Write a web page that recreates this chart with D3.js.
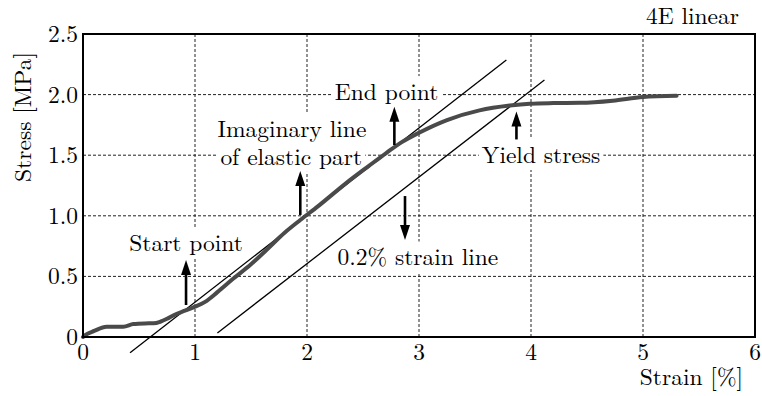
<!DOCTYPE html>
<html>
<head>
<meta charset="utf-8">
<script src="https://cdn.jsdelivr.net/npm/d3@7"></script>
<style>
  html, body { margin: 0; padding: 0; background: #fff; }
</style>
</head>
<body>
<svg id="chart" width="762" height="396"></svg>
<script>
// ---- data ----
const strain = [0, 0.02, 0.1, 0.21, 0.3, 0.36, 0.45, 0.55, 0.63, 0.69, 0.75, 0.81, 0.91, 1.0, 1.09, 1.2, 1.34, 1.5, 1.64, 1.8, 1.94, 2.1, 2.35, 2.55, 2.71, 2.85, 3.01, 3.25, 3.54, 3.81, 3.99, 4.2, 4.44, 4.73, 5.0, 5.3];
const stress = [0, 0.015, 0.05, 0.085, 0.085, 0.085, 0.107, 0.112, 0.113, 0.126, 0.15, 0.18, 0.217, 0.25, 0.29, 0.37, 0.48, 0.6, 0.72, 0.86, 0.965, 1.08, 1.27, 1.41, 1.52, 1.61, 1.69, 1.79, 1.87, 1.91, 1.925, 1.93, 1.932, 1.95, 1.98, 1.99];
const elasticLine = [[0.42, -0.13], [3.78, 2.285]];
const offsetLine = [[1.2, 0.033], [4.12, 2.12]];
const xTicks = [0, 1, 2, 3, 4, 5, 6];
const yTicks = [0, 0.5, 1.0, 1.5, 2.0, 2.5];
const yTickLabels = ["0", "0.5", "1.0", "1.5", "2.0", "2.5"];
// arrows: x, tail stress, tip stress
const arrowX = [0.92, 1.94, 2.78, 3.87, 2.875];
const arrowFrom = [0.264, 1.007, 1.584, 1.63, 1.163];
const arrowTo = [0.635, 1.37, 1.90, 1.86, 0.80];
// labels
const labelText = ["Start point", "Imaginary line", "of elastic part", "End point", "Yield stress", "0.2% strain line"];
const labelX = [0.92, 1.865, 1.86, 2.71, 4.09, 2.99];
const labelY = [0.71, 1.65, 1.42, 1.955, 1.436, 0.59];

// ---- layout ----
const FONT = '"Latin Modern Roman", "Liberation Serif", monospace';
const svg = d3.select("#chart");
const L = 83, R = 755, T = 34, B = 337;
const x = d3.scaleLinear().domain([0, 6]).range([L, R]);
const y = d3.scaleLinear().domain([0, 2.5]).range([B, T]);
const FS = 23.5;

function txt(sel) { return sel.append("text").attr("font-family", FONT).attr("font-size", FS).attr("fill", "#000"); }

// grid
const grid = svg.append("g");
grid.selectAll(".vg").data(xTicks.filter(d => d > 0 && d < 6)).join("line")
  .attr("x1", d => x(d)).attr("x2", d => x(d)).attr("y1", T).attr("y2", B)
  .attr("stroke", "#222").attr("stroke-width", 1).attr("stroke-dasharray", "3,2");
grid.selectAll(".hg").data(yTicks.filter(d => d > 0 && d < 2.5)).join("line")
  .attr("y1", d => y(d)).attr("y2", d => y(d)).attr("x1", L).attr("x2", R)
  .attr("stroke", "#222").attr("stroke-width", 1).attr("stroke-dasharray", "3,2");

// label backgrounds layer
const bgLayer = svg.append("g");

// reference lines
const line = d3.line().x(d => x(d[0])).y(d => y(d[1]));
[elasticLine, offsetLine].forEach(l => {
  svg.append("path").attr("d", line(l)).attr("fill", "none")
    .attr("stroke", "#000").attr("stroke-width", 1.3);
});

// curve
const pts = strain.map((s, i) => [s, stress[i]]);
svg.append("path")
  .attr("d", d3.line().x(d => x(d[0])).y(d => y(d[1])).curve(d3.curveMonotoneX)(pts))
  .attr("fill", "none").attr("stroke", "#4a4a4a").attr("stroke-width", 4)
  .attr("stroke-linecap", "round");

// arrows
arrowX.forEach((ax, i) => {
  const x0 = x(ax), y0 = y(arrowFrom[i]), y1 = y(arrowTo[i]);
  const dir = y1 < y0 ? -1 : 1;
  const headL = 15, headW = 5;
  svg.append("line").attr("x1", x0).attr("x2", x0).attr("y1", y0).attr("y2", y1 - dir * headL * 0.8)
    .attr("stroke", "#000").attr("stroke-width", 2.6);
  svg.append("path")
    .attr("d", `M${x0},${y1} L${x0 - headW},${y1 - dir * headL} L${x0 + headW},${y1 - dir * headL} Z`)
    .attr("fill", "#000");
});

// labels with white background
const labels = svg.append("g");
labelText.forEach((t, i) => {
  const tx = txt(labels).attr("x", x(labelX[i])).attr("y", y(labelY[i]))
    .attr("text-anchor", "middle").text(t);
  const bb = tx.node().getBBox();
  bgLayer.append("rect").attr("x", bb.x - 3).attr("y", bb.y + 2)
    .attr("width", bb.width + 6).attr("height", bb.height - 2).attr("fill", "#fff");
});

// border
svg.append("rect").attr("x", L).attr("y", T).attr("width", R - L).attr("height", B - T)
  .attr("fill", "none").attr("stroke", "#000").attr("stroke-width", 2);

// tick labels
xTicks.forEach(d => {
  txt(svg).attr("x", x(d)).attr("y", B + 23).attr("text-anchor", "middle").text(d);
});
yTicks.forEach((d, i) => {
  txt(svg).attr("x", L - 5).attr("y", y(d) + 8).attr("text-anchor", "end").text(yTickLabels[i]);
});

// axis titles
txt(svg).attr("transform", `translate(31,${117}) rotate(-90)`)
  .attr("text-anchor", "middle").text("Stress [MPa]");
txt(svg).attr("x", 743).attr("y", 385).attr("text-anchor", "end").text("Strain [%]");
txt(svg).attr("x", 739).attr("y", 24).attr("text-anchor", "end").text("4E linear");
</script>
</body>
</html>
